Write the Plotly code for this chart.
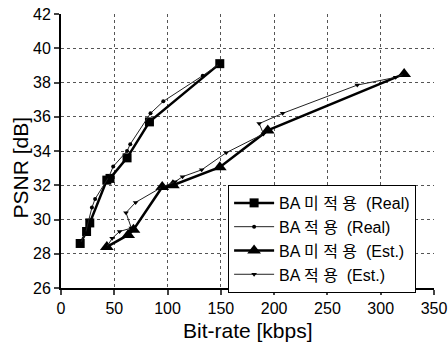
import plotly.graph_objects as go

# Data (Bit-rate kbps, PSNR dB)
real_noba_x = [18, 24, 27, 43, 46, 62, 83, 149]
real_noba_y = [28.6, 29.3, 29.8, 32.3, 32.4, 33.6, 35.7, 39.1]

real_ba_x = [18, 23, 29, 32, 45, 49, 62, 65, 84, 96, 133, 149]
real_ba_y = [28.6, 29.2, 30.7, 31.2, 32.5, 33.1, 34.0, 34.4, 36.2, 36.9, 38.4, 39.1]

est_noba_x = [43, 63, 68, 95, 105, 149, 194, 322]
est_noba_y = [28.4, 29.1, 29.4, 31.9, 32.0, 33.05, 35.2, 38.5]

est_ba_x = [43, 48, 55, 66, 61, 70, 95, 107, 114, 132, 155, 190, 186, 208, 278, 314, 322]
est_ba_y = [28.4, 28.9, 29.3, 29.5, 30.4, 31.0, 31.9, 32.2, 32.5, 32.9, 33.9, 35.0, 35.6, 36.2, 37.85, 38.3, 38.5]

S = "\u00a0"
names = [f"BA 미 적 용{S}{S}(Real)", f"BA 적 용{S}{S}(Real)", f"BA 미 적 용{S}{S}(Est.)", f"BA 적 용{S}{S}(Est.)"]

x_ticks = [0, 50, 100, 150, 200, 250, 300, 350]
y_ticks = [26, 28, 30, 32, 34, 36, 38, 40, 42]

x_title = "Bit-rate [kbps]"
y_title = "PSNR [dB]"

FONT = "Liberation Sans, Arial, Noto Sans CJK KR, sans-serif"

fig = go.Figure()
fig.add_trace(go.Scatter(x=real_noba_x, y=real_noba_y, name=names[0], mode="lines+markers",
                         line=dict(color="black", width=2.5),
                         marker=dict(symbol="square", size=9, color="black")))
fig.add_trace(go.Scatter(x=real_ba_x, y=real_ba_y, name=names[1], mode="lines+markers",
                         line=dict(color="#222", width=1),
                         marker=dict(symbol="circle", size=4, color="black")))
fig.add_trace(go.Scatter(x=est_noba_x, y=est_noba_y, name=names[2], mode="lines+markers",
                         line=dict(color="black", width=2.5),
                         marker=dict(symbol="triangle-up", size=12, color="black")))
fig.add_trace(go.Scatter(x=est_ba_x, y=est_ba_y, name=names[3], mode="lines+markers",
                         line=dict(color="#222", width=1),
                         marker=dict(symbol="triangle-down", size=5, color="black")))

fig.update_layout(
    width=448, height=350,
    margin=dict(l=61, r=14, t=14, b=62),
    paper_bgcolor="white", plot_bgcolor="white",
    font=dict(family=FONT, color="black", size=16),
    showlegend=True,
    legend=dict(x=0.448, y=0.376, xanchor="left", yanchor="top",
                bordercolor="black", borderwidth=1, bgcolor="white",
                font=dict(size=16, family=FONT), tracegroupgap=0,
                itemwidth=40),
    annotations=[
        dict(text=x_title, xref="paper", yref="paper", x=0.5, y=-0.155,
             xanchor="center", yanchor="middle", showarrow=False,
             font=dict(size=21, family=FONT)),
        dict(text=y_title, xref="paper", yref="paper", x=-0.11, y=0.44,
             xanchor="center", yanchor="middle", showarrow=False, textangle=-90,
             font=dict(size=21, family=FONT)),
    ],
)
fig.update_xaxes(range=[0, 350], tickvals=x_ticks, ticks="outside", ticklen=5, tickwidth=1.5,
                 showline=True, linecolor="black", linewidth=2,
                 showgrid=True, gridcolor="#555", griddash="dot", gridwidth=1,
                 zeroline=False, tickfont=dict(size=16), automargin=False)
fig.update_yaxes(range=[26, 42], tickvals=y_ticks, ticks="outside", ticklen=5, tickwidth=1.5,
                 showline=True, linecolor="black", linewidth=2,
                 showgrid=True, gridcolor="#555", griddash="dot", gridwidth=1,
                 zeroline=False, tickfont=dict(size=16), automargin=False)

fig.write_html("out.html", post_script="document.body.style.margin='0';",
               config={"displayModeBar": False})
